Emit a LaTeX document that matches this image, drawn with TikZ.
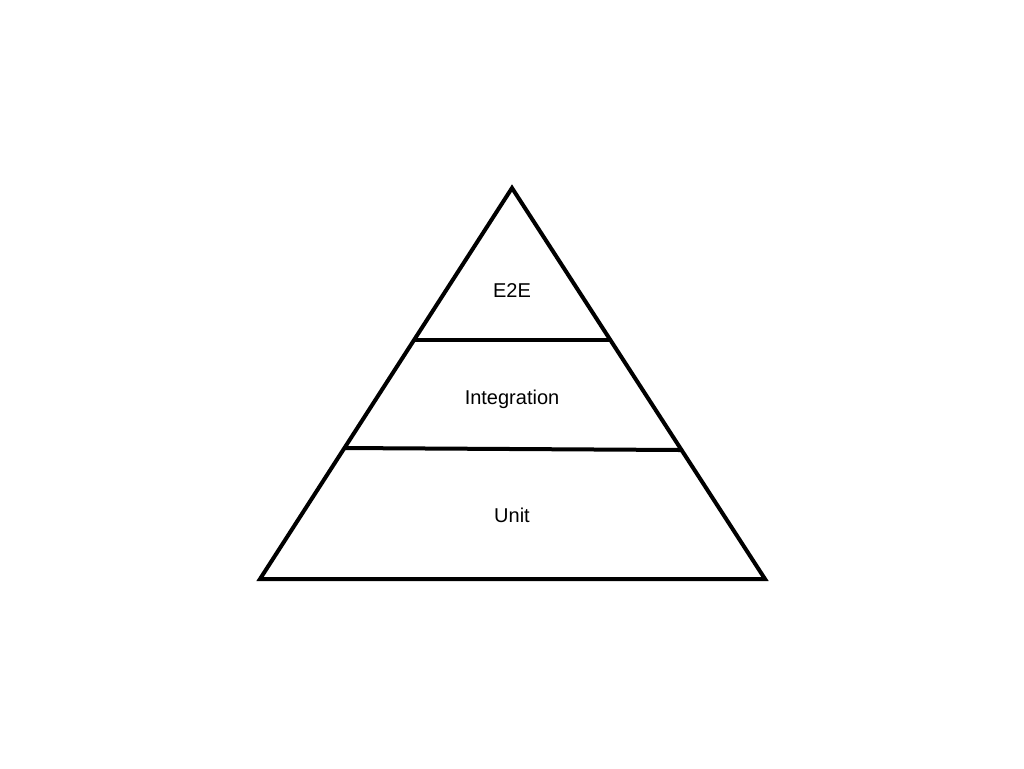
\documentclass[tikz,border=0pt]{standalone}
\usepackage{fontspec}
\setmainfont{Liberation Sans}
\usetikzlibrary{calc}
\begin{document}
\begin{tikzpicture}[x=0.75pt,y=-0.75pt,
  edge/.style={line width=3pt,line join=miter},
  lbl/.style={font=\fontsize{15pt}{17pt}\selectfont,inner sep=0pt,anchor=base}]
\useasboundingbox[fill=white] (0,0) rectangle (1024,768);
\coordinate (apex) at (512,188);
\coordinate (bl) at (260,579);
\coordinate (br) at (765,579);
\draw[edge] (apex) -- (br) -- (bl) -- cycle;
\coordinate (d1l) at ($(apex)!0.3887!(bl)$);
\coordinate (d1r) at ($(apex)!0.3887!(br)$);
\coordinate (d2l) at ($(apex)!0.6650!(bl)$);
\coordinate (d2r) at ($(apex)!0.6701!(br)$);
\draw[edge] (d1l) -- (d1r);
\draw[edge] (d2l) -- (d2r);
\node[lbl] (e2e) at (512,297) {E2E};
\node[lbl] (integ) at (512,404) {Integration};
\node[lbl] (unit) at (512,522) {Unit};
\end{tikzpicture}
\end{document}
